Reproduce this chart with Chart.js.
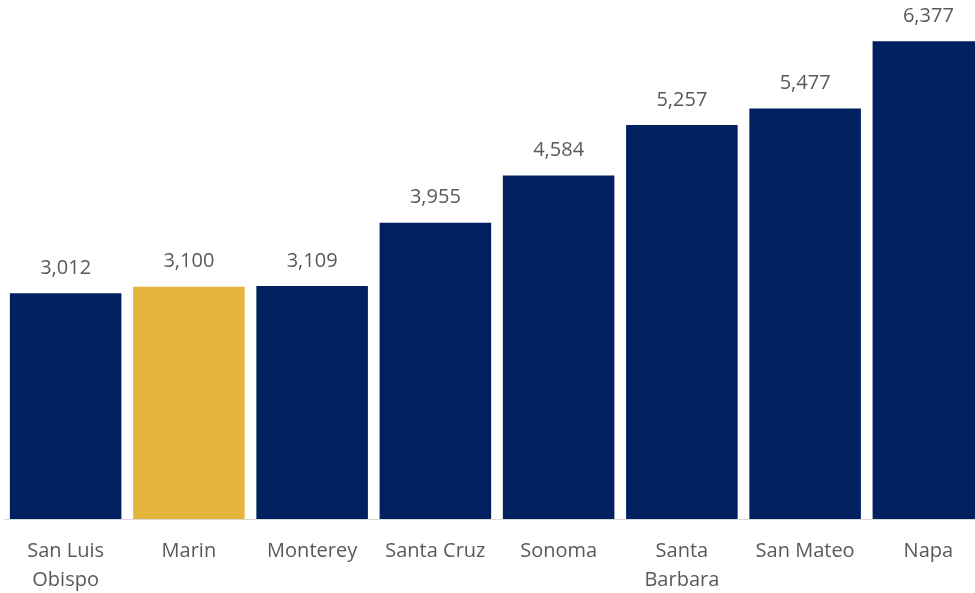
<!DOCTYPE html>
<html>
<head>
<meta charset="utf-8">
<script src="https://cdn.jsdelivr.net/npm/chart.js@4"></script>
<style>
  html, body { margin: 0; padding: 0; background: #fff; overflow: hidden; }
  #wrap { width: 990px; height: 593px; }
</style>
</head>
<body>
<div id="wrap"><canvas id="chart"></canvas></div>
<script>
// counties and values
const counties = [["San Luis", "Obispo"], "Marin", "Monterey", "Santa Cruz", "Sonoma", ["Santa", "Barbara"], "San Mateo", "Napa"];
const values = [3012, 3100, 3109, 3955, 4584, 5257, 5477, 6377];
const highlight = "Marin";

const navy = "#002060";
const gold = "#E4B43C";
const barColors = counties.map(c => c === highlight ? gold : navy);
const fontFamily = "'Open Sans'";

// etiquetas encima de cada barra
const valueLabels = {
  id: "valueLabels",
  afterDatasetsDraw(chart) {
    const ctx = chart.ctx;
    const meta = chart.getDatasetMeta(0);
    ctx.save();
    ctx.font = "20px " + fontFamily;
    ctx.fillStyle = "#595959";
    ctx.textAlign = "center";
    ctx.textBaseline = "middle";
    meta.data.forEach((bar, i) => {
      ctx.fillText(values[i].toLocaleString("en-US"), bar.x, bar.y - 25);
    });
    ctx.restore();
  }
};

new Chart(document.getElementById("chart"), {
  type: "bar",
  data: {
    labels: counties,
    datasets: [{
      data: values,
      backgroundColor: barColors,
      barPercentage: 0.905,
      categoryPercentage: 1
    }]
  },
  options: {
    responsive: true,
    maintainAspectRatio: false,
    animation: false,
    layout: { padding: { left: 4, right: 0, top: 2, bottom: 0 } },
    plugins: { legend: { display: false }, tooltip: { enabled: false } },
    scales: {
      y: { display: false, min: 0, max: 6900 },
      x: {
        grid: { display: false, drawTicks: false },
        border: { color: "#d9d9d9", width: 1 },
        afterFit(scale) { scale.height = 74; },
        ticks: {
          color: "#595959",
          padding: 18,
          maxRotation: 0,
          autoSkip: false,
          font: { family: fontFamily, size: 20, lineHeight: 1.45 }
        }
      }
    }
  },
  plugins: [valueLabels]
});
</script>
</body>
</html>
